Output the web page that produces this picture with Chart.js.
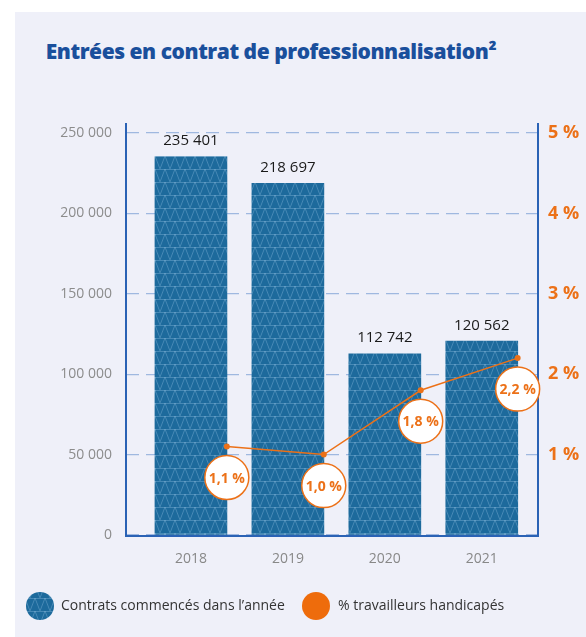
<!DOCTYPE html>
<html lang="fr">
<head>
<meta charset="utf-8">
<title>Entrées en contrat de professionnalisation</title>
<script src="https://cdn.jsdelivr.net/npm/chart.js@4.4.1/dist/chart.umd.min.js"></script>
<style>
  html, body { margin: 0; padding: 0; background: #fff; }
  #wrap { position: relative; width: 586px; height: 637px; overflow: hidden; }
  #panel { position: absolute; left: 15px; top: 12px; right: 0; bottom: 0; background: #eff0f9; }
  #titre {
    position: absolute; left: 0; top: 37px; width: 542px; text-align: center;
    font: 800 21px "Open Sans", sans-serif; color: #1a4f9c; letter-spacing: -0.45px;
  }
  canvas { position: absolute; left: 0; top: 0; }
</style>
</head>
<body>
<div id="wrap">
  <div id="panel"></div>
  <div id="titre">Entrées en contrat de professionnalisation²</div>
  <canvas id="chart" width="586" height="637"></canvas>
</div>
<script>
// --- données ---
const annees = ['2018', '2019', '2020', '2021'];
const contrats = [235401, 218697, 112742, 120562];
const pctHandicapes = [1.1, 1.0, 1.8, 2.2];
const ticksGauche = [0, 50000, 100000, 150000, 200000, 250000];
const ticksDroite = [1, 2, 3, 4, 5];
const libelles = ['Contrats commencés dans l’année', '% travailleurs handicapés'];

const BLEU = '#1d6a9c';
const ORANGE = '#ec7118';
const DECALAGE_LIGNE = 0.37; // la courbe est posée sur le bord droit des barres

function milliers(v) {
  return String(v).replace(/\B(?=(\d{3})+(?!\d))/g, ' ');
}
function pct(v) {
  return v.toFixed(1).replace('.', ',') + ' %';
}

// motif de triangles clairs sur les barres
function motifBarres(ctx) {
  const c = document.createElement('canvas');
  c.width = 10; c.height = 13;
  const g = c.getContext('2d');
  g.fillStyle = BLEU;
  g.fillRect(0, 0, 10, 13);
  g.strokeStyle = 'rgba(170, 210, 240, 0.3)';
  g.lineWidth = 1;
  g.beginPath();
  g.moveTo(0, 0.5); g.lineTo(10, 0.5);
  g.moveTo(0, 13); g.lineTo(5, 0);
  g.moveTo(5, 0); g.lineTo(10, 13);
  g.stroke();
  return ctx.createPattern(c, 'repeat');
}

const canvas = document.getElementById('chart');
const ctx = canvas.getContext('2d');
const motif = motifBarres(ctx);

const decor = {
  id: 'decor',
  afterDatasetsDraw(chart) {
    const c = chart.ctx;
    const area = chart.chartArea;

    // valeurs au-dessus des barres
    const barres = chart.getDatasetMeta(0).data;
    c.save();
    c.font = '15px "Open Sans", sans-serif';
    c.fillStyle = '#1a1a1a';
    c.textAlign = 'center';
    c.textBaseline = 'bottom';
    barres.forEach((b, i) => c.fillText(milliers(contrats[i]), b.x, b.y - 8));
    c.restore();

    // axes
    c.save();
    c.strokeStyle = '#2a62b5';
    c.lineWidth = 2;
    c.beginPath();
    c.moveTo(area.left, area.top - 10); c.lineTo(area.left, area.bottom + 1);
    c.lineTo(area.right, area.bottom + 1); c.lineTo(area.right, area.top - 10);
    c.stroke();
    c.restore();

    // bulles de pourcentage
    const points = chart.getDatasetMeta(1).data;
    c.save();
    points.forEach((p, i) => {
      const cy = p.y + 31;
      c.beginPath();
      c.arc(p.x, cy, 22, 0, Math.PI * 2);
      c.fillStyle = '#fff';
      c.fill();
      c.lineWidth = 1.5;
      c.strokeStyle = ORANGE;
      c.stroke();
      c.fillStyle = ORANGE;
      c.font = 'bold 14px "Open Sans", sans-serif';
      c.textAlign = 'center';
      c.textBaseline = 'middle';
      c.fillText(pct(pctHandicapes[i]), p.x, cy + 1);
    });
    c.restore();

    // légende
    const ly = 606;
    c.save();
    c.beginPath();
    c.arc(40, ly, 14, 0, Math.PI * 2);
    c.fillStyle = motif;
    c.fill();
    c.beginPath();
    c.arc(316, ly, 14, 0, Math.PI * 2);
    c.fillStyle = '#ee6c0c';
    c.fill();
    c.font = '14px "Open Sans", sans-serif';
    c.fillStyle = '#333';
    c.textAlign = 'left';
    c.textBaseline = 'middle';
    c.fillText(libelles[0], 61, ly);
    c.fillText(libelles[1], 338, ly);
    c.restore();
  }
};

new Chart(ctx, {
  type: 'bar',
  data: {
    datasets: [{
      type: 'bar',
      label: libelles[0],
      data: contrats.map((v, i) => ({ x: i, y: v })),
      backgroundColor: motif,
      barThickness: 72,
      yAxisID: 'y',
      order: 2
    }, {
      type: 'line',
      label: libelles[1],
      data: pctHandicapes.map((v, i) => ({ x: i + DECALAGE_LIGNE, y: v })),
      borderColor: ORANGE,
      backgroundColor: ORANGE,
      borderWidth: 1.5,
      pointRadius: 3,
      pointBorderWidth: 0,
      yAxisID: 'y1',
      order: 1
    }]
  },
  options: {
    responsive: false,
    animation: false,
    layout: { padding: { top: 133, bottom: 72, left: 0, right: 0 } },
    plugins: { legend: { display: false }, tooltip: { enabled: false } },
    scales: {
      x: {
        type: 'linear',
        offset: false,
        min: -0.67,
        max: 3.58,
        grid: { display: false, offset: false },
        border: { display: false },
        afterFit: s => { s.height = 30; },
        afterBuildTicks: s => { s.ticks = annees.map((a, i) => ({ value: i })); },
        ticks: {
          padding: 8,
          color: '#888',
          font: { family: '"Open Sans", sans-serif', size: 14 },
          callback: v => annees[v]
        }
      },
      y: {
        position: 'left',
        min: 0,
        max: 250000,
        afterFit: s => { s.width = 126; },
        afterBuildTicks: s => { s.ticks = ticksGauche.map(v => ({ value: v })); },
        grid: { color: '#9fb8e0', lineWidth: 1.2, drawTicks: false },
        border: { display: false, dash: [13, 7] },
        ticks: {
          padding: 14,
          color: '#8c8c8c',
          font: { family: '"Open Sans", sans-serif', size: 14 },
          callback: v => milliers(v)
        }
      },
      y1: {
        position: 'right',
        min: 0,
        max: 5,
        afterFit: s => { s.width = 48; },
        afterBuildTicks: s => { s.ticks = ticksDroite.map(v => ({ value: v })); },
        grid: { display: false, drawTicks: false },
        border: { display: false },
        ticks: {
          padding: 10,
          color: ORANGE,
          font: { family: '"Open Sans", sans-serif', size: 18, weight: 'bold' },
          callback: v => v + ' %'
        }
      }
    }
  },
  plugins: [decor]
});
</script>
</body>
</html>
